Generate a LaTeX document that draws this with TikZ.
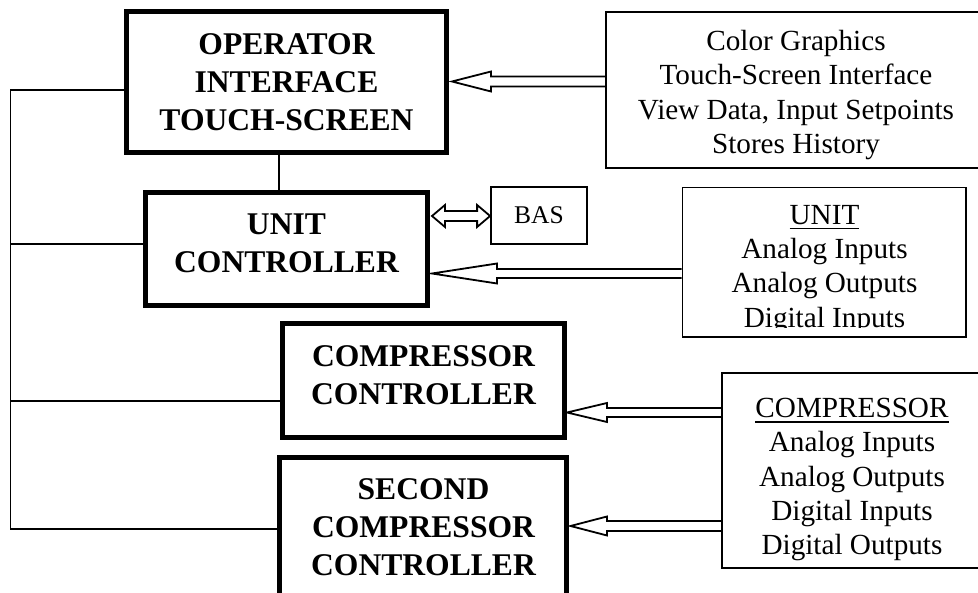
\documentclass[tikz,border=0pt]{standalone}
\usepackage{fontspec}
\setmainfont{Liberation Serif}
\usetikzlibrary{calc}
\newcommand\myul[1]{\setbox0\hbox{#1}\rlap{\rule[-5.2pt]{\wd0}{1.5pt}}\box0}
\newcommand\holarrow[5]{%
  \draw[arrline] let \p1=(#1), \p2=(#2) in
    (\x2,\y1+#5pt) -- (\x1+#3pt,\y1+#5pt) -- (\x1+#3pt,\y1+#4pt) -- (\x1,\y1)
    -- (\x1+#3pt,\y1-#4pt) -- (\x1+#3pt,\y1-#5pt) -- (\x2,\y1-#5pt);}
\begin{document}
\begin{tikzpicture}[x=1pt,y=-1pt,
  thickbox/.style={draw, line width=5pt, inner sep=0pt},
  thinbox/.style={draw, line width=1.8pt, inner sep=0pt},
  boldtxt/.style={align=center, inner sep=0pt, font=\fontsize{31.6}{37.7}\selectfont\bfseries},
  regtxt/.style={align=center, inner sep=0pt, font=\fontsize{29.2}{34.3}\selectfont},
  conn/.style={line width=1.8pt},
  arrline/.style={line width=1.8pt, line join=miter}]
\useasboundingbox (0,0) rectangle (978,593);
\clip (0,0) rectangle (978,593);
\fill[white] (0,0) rectangle (978,593);

% controller boxes
\node[thickbox, minimum width=320pt, minimum height=141pt] (op) at (286,82.5) {};
\node[boldtxt] (opT) at (286.5,82.1) {OPERATOR\\INTERFACE\\TOUCH-SCREEN};
\node[thickbox, minimum width=282pt, minimum height=112.5pt] (uc) at (286.5,249.25) {};
\node[boldtxt] (ucT) at (286.5,243.5) {UNIT\\CONTROLLER};
\node[thickbox, minimum width=282pt, minimum height=113.3pt] (cc) at (423,380.4) {};
\node[boldtxt] (ccT) at (423.5,375.3) {COMPRESSOR\\CONTROLLER};
\node[thickbox, minimum width=287.5pt, minimum height=152.7pt] (sc) at (423.2,533.6) {};
\node[boldtxt] (scT) at (423.5,527.1) {SECOND\\COMPRESSOR\\CONTROLLER};

% info boxes
\node[thinbox, minimum width=380pt, minimum height=156pt] (i1) at (796,89.8) {};
\node[regtxt] (i1T) at (796,95) {Color Graphics\\Touch-Screen Interface\\View Data, Input Setpoints\\Stores History};
\node[thinbox, minimum width=96pt, minimum height=57pt, font=\fontsize{25.5}{30}\selectfont] (bas) at (539,215.5) {BAS};
\node[thinbox, minimum width=283.5pt, minimum height=149.5pt] (i2) at (824.25,262.25) {};
\begin{scope}
  \clip (683,188) rectangle (966,327.3);
  \node[regtxt] (i2T) at (824.5,269.3) {\myul{UNIT}\\Analog Inputs\\Analog Outputs\\Digital Inputs};
\end{scope}
\node[thinbox, minimum width=261pt, minimum height=195.3pt] (i3) at (852.5,470.65) {};
\node[regtxt] (i3T) at (852,479.5) {\myul{COMPRESSOR}\\Analog Inputs\\Analog Outputs\\Digital Inputs\\Digital Outputs};

% bus connectors
\coordinate (b0) at (10.5,90);
\coordinate (b1) at (10.5,244);
\coordinate (b2) at (10.5,401);
\coordinate (b3) at (10.5,529);
\coordinate (v) at (279,0);
\draw[conn] (op.west |- b0) -- (b0) -- (b3) -- (sc.west |- b3);
\draw[conn] (b1) -- (uc.west |- b1);
\draw[conn] (b2) -- (cc.west |- b2);
\draw[conn] (op.south -| v) -- (uc.north -| v);

% hollow arrows
\coordinate (a1) at (452,81.5);
\coordinate (a2) at (432,273.5);
\coordinate (a3) at (567,412.5);
\coordinate (a4) at (570.5,526);
\holarrow{a1}{i1.west}{39}{10}{5}
\holarrow{a2}{i2.west}{65}{10}{4.5}
\holarrow{a3}{i3.west}{40}{9.5}{4.5}
\holarrow{a4}{i3.west}{36.5}{9.5}{5}

% BAS double arrow
\coordinate (bl) at (432,216);
\draw[arrline] let \p1=(bl), \p2=(bas.west) in
  (\x1,\y1) -- (\x1+13pt,\y1+11pt) -- (\x1+13pt,\y1+5pt) -- (\x2-13pt,\y1+5pt)
  -- (\x2-13pt,\y1+11pt) -- (\x2,\y1) -- (\x2-13pt,\y1-11pt) -- (\x2-13pt,\y1-5pt)
  -- (\x1+13pt,\y1-5pt) -- (\x1+13pt,\y1-11pt) -- cycle;
\end{tikzpicture}
\end{document}
